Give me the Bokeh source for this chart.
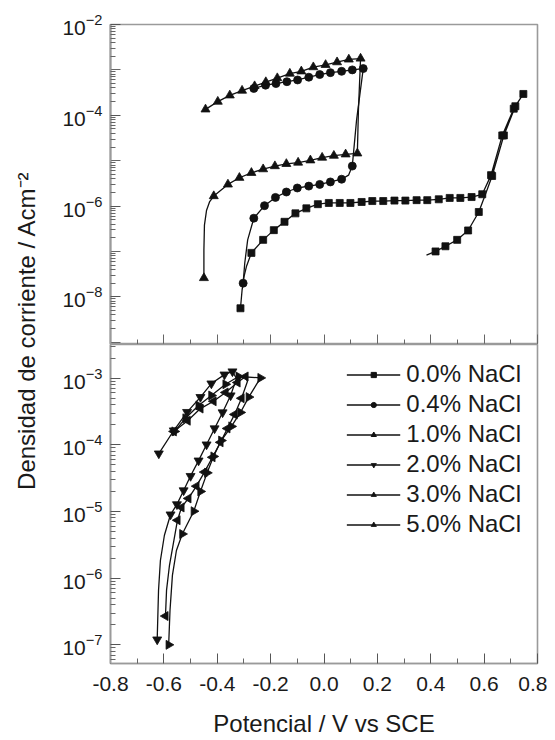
import math
from bokeh.plotting import figure
from bokeh.models import (FixedTicker, NumeralTickFormatter, Legend, LegendItem, Label,
                          Range1d, ColumnDataSource, LinearAxis, LogAxis)
from bokeh.layouts import row, column
from bokeh.embed import file_html
from bokeh.resources import INLINE

FONT = "Liberation Sans"
INK = "#111111"
FRAME = "#9a9a9a"
TXT = "#1a1a1a"

# ---------------- data ----------------
# 0.0 % NaCl (squares)
sq_x = [-0.313, -0.307, -0.300, -0.290, -0.272, -0.228, -0.188, -0.148, -0.107, -0.066,
        -0.023, 0.018, 0.059, 0.099, 0.141, 0.181, 0.222, 0.264, 0.305, 0.347,
        0.387, 0.430, 0.471, 0.511, 0.553, 0.593, 0.626, 0.668, 0.711, 0.747,
        0.717, 0.674, 0.630, 0.605, 0.580, 0.540, 0.499, 0.455, 0.418, 0.384]
sq_y = [5.6e-9, 1.4e-8, 2.75e-8, 4.8e-8, 9.3e-8, 1.8e-7, 2.95e-7, 4.5e-7, 6.9e-7, 8.9e-7,
        1.1e-6, 1.17e-6, 1.17e-6, 1.17e-6, 1.23e-6, 1.29e-6, 1.29e-6, 1.32e-6, 1.32e-6, 1.35e-6,
        1.35e-6, 1.41e-6, 1.51e-6, 1.51e-6, 1.58e-6, 1.82e-6, 4.8e-6, 3.6e-5, 1.4e-4, 2.95e-4,
        1.58e-4, 3.6e-5, 4.6e-6, 1.82e-6, 7.4e-7, 2.9e-7, 1.8e-7, 1.3e-7, 1.0e-7, 8.3e-8]
sq_m = [1, 0, 0, 0, 1, 1, 1, 1, 1, 1, 1, 1, 1, 1, 1, 1, 1, 1, 1, 1,
        1, 1, 1, 1, 1, 1, 1, 1, 1, 1, 1, 1, 1, 0, 1, 1, 1, 1, 1, 0]

# 0.4 % NaCl (circles)
ci_x = [-0.303, -0.297, -0.286, -0.263, -0.223, -0.182, -0.141, -0.100, -0.057, -0.016,
        0.024, 0.066, 0.092, 0.106, 0.122, 0.147, 0.106, 0.066, 0.024, -0.016,
        -0.057, -0.099, -0.139, -0.180, -0.219, -0.263]
ci_y = [2.0e-8, 5.5e-8, 1.8e-7, 5.4e-7, 1.02e-6, 1.55e-6, 2.04e-6, 2.5e-6, 2.75e-6, 3.0e-6,
        3.4e-6, 3.9e-6, 4.8e-6, 7.6e-6, 7.8e-5, 1.07e-3, 1.0e-3, 9.3e-4, 8.7e-4, 7.9e-4,
        6.9e-4, 6.0e-4, 5.5e-4, 5.0e-4, 4.6e-4, 3.9e-4]
ci_m = [1, 0, 0, 1, 1, 1, 1, 1, 1, 1, 1, 1, 0, 1, 0, 1, 1, 1, 1, 1, 1, 1, 1, 1, 1, 1]

# 1.0 % NaCl (triangles)
tr_x = [-0.450, -0.450, -0.448, -0.440, -0.429, -0.413, -0.360, -0.317, -0.272, -0.228,
        -0.184, -0.141, -0.097, -0.051, -0.007, 0.037, 0.081, 0.125, 0.129, 0.137,
        0.093, 0.049, 0.006, -0.040, -0.085, -0.128, -0.175, -0.218, -0.260, -0.307,
        -0.353, -0.398, -0.444]
tr_y = [2.6e-8, 1.07e-7, 3.8e-7, 8.1e-7, 1.23e-6, 1.66e-6, 3.0e-6, 4.2e-6, 5.4e-6, 6.5e-6,
        7.6e-6, 8.5e-6, 9.1e-6, 1.02e-5, 1.17e-5, 1.29e-5, 1.38e-5, 1.45e-5, 1.29e-4, 1.78e-3,
        1.7e-3, 1.48e-3, 1.29e-3, 1.15e-3, 9.3e-4, 8.3e-4, 6.6e-4, 5.4e-4, 4.4e-4, 3.5e-4,
        2.75e-4, 2.0e-4, 1.35e-4]
tr_m = [1, 0, 0, 0, 0, 1, 1, 1, 1, 1, 1, 1, 1, 1, 1, 1, 1, 1, 0, 1,
        1, 1, 1, 1, 1, 1, 1, 1, 1, 1, 1, 1, 1]

# 2.0 % NaCl (down triangles)
dn_x = [-0.619, -0.563, -0.513, -0.463, -0.422, -0.373, -0.343, -0.328, -0.350, -0.380,
        -0.410, -0.440, -0.470, -0.500, -0.526, -0.551, -0.575, -0.598, -0.613, -0.620, -0.625]
dn_y = [7.4e-5, 1.64e-4, 3.1e-4, 5.2e-4, 8.3e-4, 1.13e-3, 1.26e-3, 9.9e-4, 5.5e-4, 3.06e-4,
        1.76e-4, 1.01e-4, 5.8e-5, 3.4e-5, 2.07e-5, 1.28e-5, 9.0e-6, 4.4e-6, 1.84e-6, 6.6e-7, 1.2e-7]
dn_m = [1, 1, 1, 1, 1, 1, 1, 0, 1, 1, 1, 1, 1, 1, 1, 1, 1, 0, 0, 0, 1]

# 3.0 % NaCl (left triangles)
lf_x = [-0.563, -0.511, -0.463, -0.414, -0.369, -0.324, -0.294, -0.287, -0.309, -0.335,
        -0.362, -0.388, -0.418, -0.448, -0.478, -0.508, -0.534, -0.549, -0.579, -0.590, -0.594]
lf_y = [1.59e-4, 2.3e-4, 3.5e-4, 4.5e-4, 6.1e-4, 8.6e-4, 1.06e-3, 8.9e-4, 5.0e-4, 2.86e-4,
        1.76e-4, 1.09e-4, 6.5e-5, 3.9e-5, 2.4e-5, 1.57e-5, 1.15e-5, 7.4e-6, 1.56e-6, 6.6e-7, 2.7e-7]
lf_m = [1, 1, 1, 1, 1, 1, 1, 0, 1, 1, 1, 1, 1, 1, 1, 1, 1, 1, 0, 0, 1]

# 5.0 % NaCl (right triangles)
rt_x = [-0.560, -0.519, -0.470, -0.422, -0.369, -0.320, -0.238, -0.282, -0.313, -0.347,
        -0.385, -0.414, -0.438, -0.463, -0.488, -0.531, -0.553, -0.568, -0.577, -0.582]
rt_y = [1.59e-4, 2.5e-4, 3.9e-4, 5.5e-4, 8.1e-4, 1.06e-3, 1.01e-3, 5.2e-4, 3.06e-4, 1.89e-4,
        1.16e-4, 6.7e-5, 3.8e-5, 2.0e-5, 1.01e-5, 4.6e-6, 2.6e-6, 1.1e-6, 3.3e-7, 1.0e-7]
rt_m = [1, 1, 1, 1, 1, 1, 1, 1, 1, 1, 1, 1, 1, 1, 1, 1, 0, 0, 0, 1]

labels = ["0.0% NaCl", "0.4% NaCl", "1.0% NaCl", "2.0% NaCl", "3.0% NaCl", "5.0% NaCl"]

x_ticks = [-0.8, -0.6, -0.4, -0.2, 0.0, 0.2, 0.4, 0.6, 0.8]
x_minor = [-0.7, -0.5, -0.3, -0.1, 0.1, 0.3, 0.5, 0.7]
top_exps = [-9, -8, -7, -6, -5, -4, -3, -2]
top_labelled = [-8, -6, -4, -2]
bot_exps = [-8, -7, -6, -5, -4, -3]

x_label = "Potencial / V vs SCE"
y_label = "Densidad de corriente / Acm\u207b\u00b2"


def log_minor(exps):
    out = []
    for e in exps:
        for k in range(2, 10):
            out.append(k * 10.0 ** e)
    return out


def style_axis(ax, tick_in=10, minor_in=5):
    ax.axis_line_color = FRAME
    ax.axis_line_width = 1.6
    ax.major_tick_line_color = "#555555"
    ax.minor_tick_line_color = "#666666"
    ax.major_tick_in = tick_in
    ax.major_tick_out = 0
    ax.minor_tick_in = minor_in
    ax.minor_tick_out = 0
    ax.major_label_text_font = FONT
    ax.major_label_text_font_size = "21px"
    ax.major_label_text_color = TXT
    ax.axis_label_text_font = FONT
    ax.axis_label_text_font_style = "normal"
    ax.axis_label_text_font_size = "24px"
    ax.axis_label_text_color = TXT


def style_fig(p):
    p.outline_line_color = FRAME
    p.outline_line_width = 1.6
    p.xgrid.visible = False
    p.ygrid.visible = False


def add_series(p, xs, ys, ms, marker, size, angle=0.0):
    lr = p.line(xs, ys, line_color=INK, line_width=1.3)
    mx = [a for a, m in zip(xs, ms) if m]
    my = [b for b, m in zip(ys, ms) if m]
    sr = p.scatter(mx, my, marker=marker, size=size, angle=angle,
                   fill_color=INK, line_color=INK, line_width=0.8)
    return lr, sr


FW = 427
common = dict(output_backend="svg", toolbar_location=None, y_axis_type="log",
              frame_width=FW, min_border_left=62, min_border_right=10)

# ---------------- top panel ----------------
top = figure(frame_height=320, x_range=Range1d(-0.8, 0.8), y_range=Range1d(10 ** -9.05, 1e-2),
             min_border_top=24, min_border_bottom=0,
             x_axis_location=None, y_axis_location=None, **common)
style_fig(top)

# x ticks along the bottom edge (no labels)
ax_a = LinearAxis(ticker=FixedTicker(ticks=[], minor_ticks=x_ticks))
style_axis(ax_a, minor_in=10)
top.add_layout(ax_a, "below")
ax_b = LinearAxis(ticker=FixedTicker(ticks=[], minor_ticks=x_minor))
style_axis(ax_b, minor_in=5)
top.add_layout(ax_b, "below")

# y: long unlabelled ticks on odd decades, labelled ticks on even decades
ay_a = LogAxis(ticker=FixedTicker(ticks=[], minor_ticks=[10.0 ** e for e in top_exps
                                                         if e not in top_labelled]))
style_axis(ay_a, minor_in=10)
top.add_layout(ay_a, "left")
ay_b = LogAxis(ticker=FixedTicker(ticks=[10.0 ** e for e in top_labelled],
                                  minor_ticks=log_minor(top_exps)))
style_axis(ay_b)
ay_b.major_label_standoff = 8
top.add_layout(ay_b, "left")

add_series(top, sq_x, sq_y, sq_m, "square", 7)
add_series(top, ci_x, ci_y, ci_m, "circle", 8)
add_series(top, tr_x, tr_y, tr_m, "triangle", 9)

# ---------------- bottom panel ----------------
bot = figure(frame_height=319, x_range=top.x_range,
             y_range=Range1d(10 ** -7.28, 10 ** -2.495),
             min_border_top=0, min_border_bottom=8, **common)
style_fig(bot)
for ax in bot.axis:
    style_axis(ax)
bot.xaxis.ticker = FixedTicker(ticks=x_ticks, minor_ticks=x_minor)
bot.xaxis.formatter = NumeralTickFormatter(format="0.0")
bot.yaxis.ticker = FixedTicker(ticks=[10.0 ** e for e in bot_exps[1:]],
                               minor_ticks=log_minor(bot_exps))
bot.yaxis.major_label_standoff = 8
bot.xaxis.axis_label = x_label
bot.xaxis.major_label_standoff = 13
bot.xaxis.axis_label_standoff = 16

r_dn = add_series(bot, dn_x, dn_y, dn_m, "inverted_triangle", 9)
r_lf = add_series(bot, lf_x, lf_y, lf_m, "triangle", 9, angle=math.pi / 2)
r_rt = add_series(bot, rt_x, rt_y, rt_m, "triangle", 9, angle=-math.pi / 2)

# legend proxies for the top-panel series (a single NaN point, never drawn in the frame)
proxies = []
for mk, sz in (("square", 7), ("circle", 8), ("triangle", 9)):
    src = ColumnDataSource(data=dict(x=[float("nan")], y=[float("nan")]))
    l = bot.line("x", "y", source=src, line_color=INK, line_width=1.3)
    s = bot.scatter("x", "y", source=src, marker=mk, size=sz, fill_color=INK, line_color=INK)
    proxies.append((l, s))

items = []
for lab, rr in zip(labels, proxies + [r_dn, r_lf, r_rt]):
    items.append(LegendItem(label=lab, renderers=list(rr)))
leg = Legend(items=items, location="top_right", border_line_color=None,
             background_fill_alpha=0, label_text_font=FONT, label_text_font_size="24px",
             label_text_color=TXT, glyph_width=54, glyph_height=13,
             label_height=26, spacing=2, margin=16, padding=10, label_standoff=6)
bot.add_layout(leg)

# ---------------- shared y label ----------------
H = 725
lab_fig = figure(width=48, height=H, output_backend="svg", toolbar_location=None,
                 x_range=(0, 1), y_range=(0, 1), min_border=0,
                 x_axis_location=None, y_axis_location=None)
lab_fig.outline_line_color = None
lab_fig.xgrid.visible = False
lab_fig.ygrid.visible = False
lab_fig.add_layout(Label(x=26, y=H - 330, x_units="screen", y_units="screen",
                         text=y_label, angle=math.pi / 2, text_align="center",
                         text_baseline="middle", text_font=FONT, text_font_size="24px",
                         text_color=TXT))

layout = row(lab_fig, column(top, bot, spacing=0), spacing=0)

open("out.html", "w").write(file_html(layout, INLINE))
